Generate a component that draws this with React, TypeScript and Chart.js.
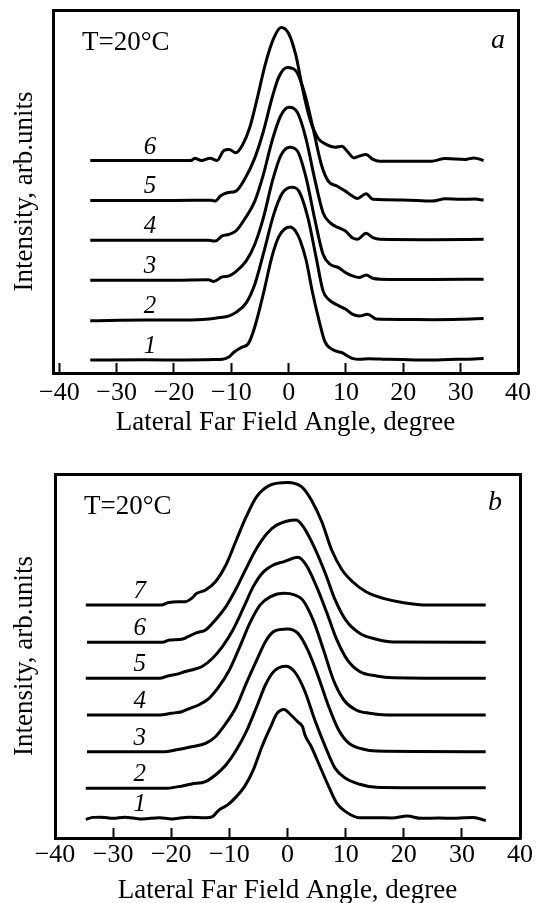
import React, { useEffect, useRef } from "react";
import { Chart, registerables } from "chart.js";

Chart.register(...registerables);

const FONT = '"Liberation Serif", "Times New Roman", serif';

const X_TICKS = [-40, -30, -20, -10, 0, 10, 20, 30, 40];
const X_TITLE = "Lateral Far Field Angle, degree";
const Y_TITLE = "Intensity, arb.units";
const TEMP_LABEL = "T=20°C";

type Pt = [number, number];

// ---------- Panel a: [angle (deg), normalized intensity] ----------
const A_LABELS = ["1", "2", "3", "4", "5", "6"];
const A_OFFSETS = [0, 0.3, 0.6, 0.9, 1.2, 1.5];
const A_LABEL_ANGLE = -24.2;

const A1: Pt[] = [[-34.6, 0], [-25, 0.002], [-18, 0], [-13, 0.003], [-11.5, 0.006], [-10.5, 0.02], [-9.5, 0.06], [-8.2, 0.095], [-7, 0.125], [-5.9, 0.25], [-4.4, 0.5], [-2.9, 0.78], [-1.7, 0.93], [-0.7, 0.985], [0.24, 1.0], [1.2, 0.97], [2.0, 0.9], [3.05, 0.75], [4.2, 0.5], [5.4, 0.28], [6.3, 0.14], [7.8, 0.075], [9.3, 0.055], [10.3, 0.03], [11.1, 0.012], [12.3, 0.005], [14, 0.01], [17, 0.006], [20, 0.003], [25, 0], [28, 0.004], [31, 0.006], [34, 0.012]];
const A2: Pt[] = [[-34.6, -0.005], [-25, 0], [-20, 0], [-15, 0.005], [-12, 0.02], [-10.5, 0.03], [-9.2, 0.058], [-7.4, 0.13], [-5.9, 0.27], [-4.4, 0.5], [-2.6, 0.795], [-1.1, 0.955], [0.5, 1.0], [1.85, 0.965], [3.35, 0.77], [4.8, 0.47], [6.0, 0.22], [6.9, 0.158], [8.4, 0.115], [9.9, 0.083], [11.1, 0.045], [12.3, 0.03], [13.8, 0.045], [15.3, 0.008], [20, 0.005], [25, 0.003], [30, 0.006], [34, 0.012]];
const A3: Pt[] = [[-34.6, 0], [-20, 0], [-14, 0.003], [-13.1, -0.01], [-11.6, 0.025], [-10.4, 0.033], [-9.2, 0.065], [-7.4, 0.145], [-5.9, 0.27], [-4.4, 0.47], [-2.9, 0.735], [-1.4, 0.935], [0.2, 1.0], [1.55, 0.97], [3.05, 0.77], [4.5, 0.47], [6.0, 0.195], [7.2, 0.12], [8.7, 0.095], [9.9, 0.058], [11.1, 0.033], [12.3, 0.02], [13.5, 0.04], [14.7, 0.015], [16, 0.008], [25, 0.005], [34, 0.008]];
const A4: Pt[] = [[-34.6, 0], [-20, 0], [-14, 0], [-12.8, -0.005], [-11.6, 0.033], [-10.4, 0.045], [-9.2, 0.07], [-7.7, 0.158], [-5.9, 0.295], [-4.4, 0.496], [-2.9, 0.747], [-1.4, 0.935], [0.06, 1.0], [1.55, 0.96], [3.05, 0.76], [4.5, 0.47], [6.0, 0.208], [7.2, 0.133], [8.7, 0.095], [9.9, 0.07], [11.1, 0.02], [12.0, 0.008], [13.5, 0.053], [14.7, 0.02], [15.9, 0.008], [25, 0.005], [34, 0.008]];
const A5: Pt[] = [[-34.6, 0], [-20, 0], [-13.5, 0.002], [-12.8, -0.005], [-11.9, 0.033], [-10.7, 0.058], [-9.2, 0.07], [-7.7, 0.158], [-5.9, 0.32], [-4.4, 0.52], [-2.9, 0.77], [-1.7, 0.93], [-0.24, 1.0], [1.26, 0.975], [2.75, 0.81], [4.24, 0.545], [5.7, 0.27], [6.9, 0.145], [8.4, 0.108], [9.9, 0.07], [11.1, 0.033], [12.0, 0.015], [13.5, 0.05], [14.7, 0.008], [20, 0.003], [25, -0.005], [27.3, 0.012], [30, 0.008], [32.5, 0.01], [34, 0.003]];
const A6: Pt[] = [[-34.6, 0], [-17, 0], [-16.4, 0.018], [-15.2, 0], [-13.7, 0.018], [-12.5, 0], [-11.3, 0.075], [-10.4, 0.083], [-9.2, 0.058], [-8.0, 0.12], [-6.8, 0.246], [-5.6, 0.446], [-4.1, 0.72], [-2.6, 0.92], [-1.3, 1.0], [0.06, 0.95], [1.26, 0.79], [2.45, 0.536], [3.65, 0.32], [5.1, 0.17], [6.6, 0.12], [8.1, 0.1], [9.3, 0.108], [10.2, 0.07], [11.4, 0.02], [12.3, 0.033], [13.5, 0.045], [14.7, 0.008], [15.9, -0.005], [24.9, -0.005], [27.3, 0.015], [30.8, 0.008], [32.3, 0.02], [34, 0]];
const A_CURVES = [A1, A2, A3, A4, A5, A6];

// ---------- Panel b ----------
const B_LABELS = ["1", "2", "3", "4", "5", "6", "7"];
const B_OFFSETS = [0, 0.246, 0.546, 0.847, 1.148, 1.443, 1.748];
const B_LABEL_ANGLE = -25.4;

const B1: Pt[] = [[-34.7, -0.008], [-33.5, 0.008], [-32, 0.01], [-30, 0], [-28, 0.01], [-26.5, 0.002], [-25, -0.005], [-22, 0.005], [-20, -0.005], [-17, 0.01], [-14, 0.005], [-12.9, 0.014], [-11.8, 0.068], [-10.3, 0.11], [-8.8, 0.178], [-7.4, 0.26], [-5.9, 0.396], [-4.4, 0.587], [-2.9, 0.75], [-1.8, 0.86], [-0.6, 0.893], [0.6, 0.847], [1.8, 0.79], [2.6, 0.75], [3.0, 0.683], [4.1, 0.587], [5.6, 0.423], [7.1, 0.26], [8.5, 0.123], [10, 0.055], [12.4, 0.005], [15, 0.005], [18, 0.003], [20.6, 0.019], [23, 0], [26, 0.003], [29, 0], [32, 0.008], [34.1, -0.019]];
const B2: Pt[] = [[-34.7, 0], [-21, 0], [-18.8, 0.014], [-16.5, 0.036], [-14.1, 0.055], [-12.4, 0.109], [-10.6, 0.191], [-8.8, 0.314], [-7.1, 0.464], [-5.3, 0.669], [-3.8, 0.847], [-2.4, 0.956], [-0.3, 1.0], [1.2, 0.956], [2.9, 0.806], [4.7, 0.56], [6.5, 0.342], [8.2, 0.164], [10, 0.082], [12.4, 0.033], [15.3, 0.008], [20, 0.005], [34.1, 0.005]];
const B3: Pt[] = [[-34.5, 0], [-21, 0], [-18.8, 0.019], [-16.5, 0.041], [-14.1, 0.068], [-12.4, 0.123], [-10.6, 0.232], [-8.8, 0.369], [-7.1, 0.56], [-5.3, 0.751], [-3.8, 0.902], [-2.4, 0.984], [0, 1.005], [1.8, 0.97], [3.5, 0.833], [5.3, 0.615], [7.1, 0.369], [8.8, 0.178], [10.6, 0.068], [12.9, 0.022], [15.3, 0.005], [34.1, 0]];
const B4: Pt[] = [[-34.5, 0], [-22, 0], [-20, 0.014], [-18.2, 0.027], [-16.8, 0.055], [-15.3, 0.082], [-13.5, 0.137], [-11.8, 0.232], [-10, 0.369], [-8.2, 0.56], [-6.5, 0.751], [-4.7, 0.902], [-2.9, 0.97], [-0.6, 0.997], [1.2, 0.984], [2.6, 0.943], [4.4, 0.779], [6.2, 0.533], [7.9, 0.287], [9.7, 0.123], [11.8, 0.041], [14.1, 0.014], [17.1, 0], [34.1, 0]];
const B5: Pt[] = [[-34.7, 0], [-22, 0], [-20.6, 0.019], [-18.8, 0.036], [-17.6, 0.055], [-16.5, 0.068], [-14.7, 0.096], [-12.9, 0.164], [-11.2, 0.26], [-9.4, 0.396], [-7.6, 0.574], [-5.9, 0.751], [-4.1, 0.874], [-2.4, 0.929], [-0.6, 0.956], [1.8, 0.992], [3.2, 0.929], [5, 0.751], [6.8, 0.533], [8.5, 0.314], [10.3, 0.15], [12.4, 0.055], [15.3, 0.019], [18.2, 0.005], [34.1, 0]];
const B6: Pt[] = [[-34.5, 0], [-21.5, 0], [-20.3, 0.019], [-18.2, 0.025], [-17.1, 0.046], [-15.6, 0.079], [-14.1, 0.101], [-12.4, 0.183], [-10.6, 0.292], [-8.8, 0.443], [-7.1, 0.607], [-5.3, 0.77], [-3.5, 0.893], [-1.8, 0.962], [1.5, 1.003], [2.9, 0.934], [4.7, 0.77], [6.5, 0.566], [8.2, 0.347], [10, 0.183], [12.4, 0.074], [15.3, 0.025], [18.2, 0.003], [34.1, 0]];
const B7: Pt[] = [[-34.7, 0], [-21.7, 0], [-20.6, 0.019], [-18.8, 0.027], [-17.6, 0.027], [-16.5, 0.055], [-15.6, 0.096], [-14.1, 0.123], [-12.4, 0.191], [-10.6, 0.328], [-8.8, 0.533], [-7.1, 0.724], [-5.3, 0.888], [-2.9, 0.984], [0, 1.005], [2.4, 0.97], [4.1, 0.861], [5.9, 0.683], [7.6, 0.451], [9.4, 0.287], [11.2, 0.191], [13.5, 0.109], [16.5, 0.055], [20, 0.019], [24.1, 0], [34.1, 0]];
const B_CURVES = [B1, B2, B3, B4, B5, B6, B7];

interface PanelCfg {
  curves: Pt[][];
  offsets: number[];
  labels: string[];
  labelAngle: number;
  letter: string;
  xMin: number;
  xMax: number;
  yMin: number;
  yMax: number;
  width: number;
  height: number;
  yAxisWidth: number;
  xAxisHeight: number;
  padTop: number;
  padRight: number;
  tickPad: number;
  xTitlePad: number;
  letterRight: number;
  letterTop: number;
}

const CFG_A: PanelCfg = {
  curves: A_CURVES, offsets: A_OFFSETS, labels: A_LABELS, labelAngle: A_LABEL_ANGLE, letter: "a",
  xMin: -41.1, xMax: 40, yMin: -0.0977, yMax: 2.632,
  width: 538, height: 450, yAxisWidth: 53, xAxisHeight: 77, padTop: 10, padRight: 20,
  tickPad: 15, xTitlePad: 11, letterRight: 13, letterTop: 38,
};

const CFG_B: PanelCfg = {
  curves: B_CURVES, offsets: B_OFFSETS, labels: B_LABELS, labelAngle: B_LABEL_ANGLE, letter: "b",
  xMin: -40, xMax: 40, yMin: -0.161, yMax: 2.822,
  width: 538, height: 453, yAxisWidth: 55, xAxisHeight: 65, padTop: 24, padRight: 18,
  tickPad: 12, xTitlePad: -4, letterRight: 18, letterTop: 36,
};

function Panel({ cfg }: { cfg: PanelCfg }) {
  const ref = useRef<HTMLCanvasElement>(null);
  useEffect(() => {
    const c = cfg;
    const annot = {
      id: "annot",
      afterDatasetsDraw(chart: any) {
        const { ctx, chartArea, scales } = chart;
        ctx.save();
        ctx.fillStyle = "#000";
        ctx.textBaseline = "alphabetic";
        ctx.font = `27px ${FONT}`;
        ctx.textAlign = "left";
        ctx.fillText(TEMP_LABEL, chartArea.left + 29, chartArea.top + 40);
        ctx.font = `italic 28px ${FONT}`;
        ctx.textAlign = "right";
        ctx.fillText(c.letter, chartArea.right - c.letterRight, chartArea.top + c.letterTop);
        ctx.font = `italic 25px ${FONT}`;
        ctx.textAlign = "center";
        c.labels.forEach((l, i) => {
          ctx.fillText(l, scales.x.getPixelForValue(c.labelAngle), scales.y.getPixelForValue(c.offsets[i]) - 7);
        });
        ctx.restore();
      },
    };
    const borderCfg = { display: true, color: "#000", width: 3 };
    const chart = new Chart(ref.current as HTMLCanvasElement, {
      type: "line",
      data: {
        datasets: c.curves.map((curve, i) => ({
          data: curve.map(([x, v]) => ({ x, y: v + c.offsets[i] })),
          borderColor: "#000",
          borderWidth: 3,
          pointRadius: 0,
          cubicInterpolationMode: "monotone",
          fill: false,
        })),
      },
      options: {
        responsive: false,
        animation: false,
        devicePixelRatio: 1,
        events: [],
        layout: { padding: { left: 0, right: c.padRight, top: c.padTop, bottom: 0 } },
        plugins: { legend: { display: false }, tooltip: { enabled: false } },
        scales: {
          x: {
            type: "linear",
            position: "bottom",
            min: c.xMin,
            max: c.xMax,
            afterBuildTicks: (s: any) => {
              s.ticks = X_TICKS.map((v) => ({ value: v }));
            },
            afterFit: (s: any) => {
              s.height = c.xAxisHeight;
              s.paddingLeft = 0;
              s.paddingRight = 0;
            },
            ticks: {
              font: { family: FONT, size: 26 },
              color: "#000",
              padding: c.tickPad,
              maxRotation: 0,
              minRotation: 0,
              autoSkip: false,
              callback: (v: any) => (Number(v) < 0 ? "\u2212" + Math.abs(Number(v)) : String(v)),
            },
            grid: { display: true, drawOnChartArea: false, drawTicks: true, tickLength: -10, tickWidth: 2, tickColor: "#000", color: "#000" },
            border: borderCfg,
            title: { display: true, text: X_TITLE, font: { family: FONT, size: 27 }, color: "#000", padding: { top: 0, bottom: c.xTitlePad } },
          },
          y: {
            type: "linear",
            position: "left",
            min: c.yMin,
            max: c.yMax,
            afterFit: (s: any) => {
              s.width = c.yAxisWidth;
              s.paddingTop = 0;
              s.paddingBottom = 0;
            },
            ticks: { display: false },
            grid: { display: false },
            border: borderCfg,
            title: { display: true, text: Y_TITLE, font: { family: FONT, size: 27 }, color: "#000", padding: { top: 9, bottom: 0 } },
          },
          x2: {
            type: "linear",
            position: "top",
            min: c.xMin,
            max: c.xMax,
            afterFit: (s: any) => {
              s.height = 0;
              s.paddingLeft = 0;
              s.paddingRight = 0;
            },
            ticks: { display: false },
            grid: { display: false },
            border: borderCfg,
          },
          y2: {
            type: "linear",
            position: "right",
            min: c.yMin,
            max: c.yMax,
            afterFit: (s: any) => {
              s.width = 0;
              s.paddingTop = 0;
              s.paddingBottom = 0;
            },
            ticks: { display: false },
            grid: { display: false },
            border: borderCfg,
          },
        },
      } as any,
      plugins: [annot],
    });
    return () => chart.destroy();
  }, [cfg]);
  return <canvas ref={ref} width={cfg.width} height={cfg.height} style={{ display: "block" }} />;
}

export default function App() {
  return (
    <div style={{ position: "absolute", left: 0, top: 0, width: 538, height: 903, background: "#fff", overflow: "hidden" }}>
      <Panel cfg={CFG_A} />
      <Panel cfg={CFG_B} />
    </div>
  );
}
